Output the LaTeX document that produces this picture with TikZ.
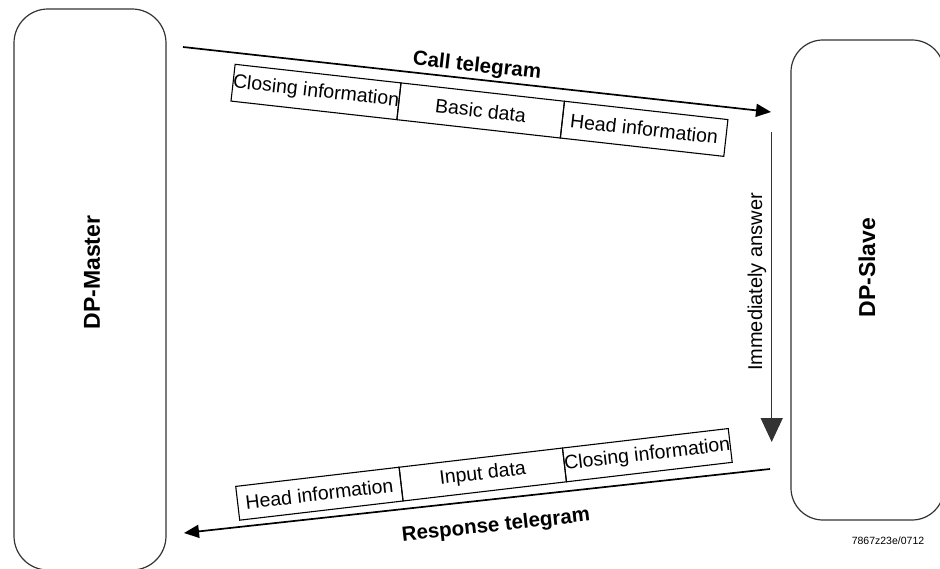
\documentclass[tikz,border=0pt]{standalone}
\usepackage{fontspec}
\setmainfont{Liberation Sans}
\usetikzlibrary{arrows.meta}

\begin{document}
\begin{tikzpicture}[x=1pt,y=-1pt,font=\fontsize{20}{23}\selectfont]
        \tikzset{station/.style={draw=black!80, line width=1.2pt, inner sep=0pt},
          cell/.style={draw, line width=1.1pt, minimum width=164.5pt, inner sep=0pt, outer sep=0pt, font=\fontsize{19.5}{21}\selectfont},
          title/.style={font=\fontsize{20.5}{24}\selectfont\bfseries},
          telegram/.style={line width=1.7pt, -{Triangle[length=15pt,width=13pt]}}}
        \clip (0,0) rectangle (940,569);
        % master and slave
        \node[station, rounded corners=34pt, minimum width=152pt, minimum height=561pt] (master) at (90,289.5) {};
        \node[station, rounded corners=32pt, minimum width=153pt, minimum height=480pt] (slave) at (867.5,280) {};
        \node[title, font=\fontsize{23}{26}\selectfont\bfseries, rotate=90] (mastername) at (92,272.5) {DP-Master};
        \node[title, font=\fontsize{23}{26}\selectfont\bfseries, rotate=90] (slavename) at (867,267.5) {DP-Slave};
        % call telegram
        \node[cell, rotate=-6.4, minimum height=37pt] (callclose) at (316,92) {Closing information};
        \node[cell, rotate=-6.4, minimum height=37pt, anchor=west] (calldata) at (callclose.east) {Basic data};
        \node[cell, rotate=-6.4, minimum height=37pt, anchor=west] (callhead) at (calldata.east) {Head information};
        \coordinate (callstart) at (183,47);
        \coordinate (callend) at (771,112);
        \draw[telegram] (callstart) -- (callend);
        \node[title, rotate=-6.3] (calllabel) at (477,66.5) {Call telegram};
        % answer
        \coordinate (answerstart) at (771.7,132);
        \coordinate (answerend) at (771.7,442);
        \draw[line width=1.5pt, draw=black!80, -{Triangle[length=24pt,width=22pt]}] (answerstart) -- (answerend);
        \node[rotate=90] (answerlabel) at (757,282) {Immediately answer};
        % response telegram
        \node[cell, rotate=6.7, minimum height=34pt] (resphead) at (319.4,493.7) {Head information};
        \node[cell, rotate=6.7, minimum height=34pt, anchor=west] (respdata) at (resphead.east) {Input data};
        \node[cell, rotate=6.7, minimum height=34pt, anchor=west] (respclose) at (respdata.east) {Closing information};
        \coordinate (respstart) at (770,469);
        \coordinate (respend) at (184,533);
        \draw[telegram] (respstart) -- (respend);
        \node[title, rotate=6.2] (resplabel) at (496,526) {Response telegram};
        \node[font=\fontsize{10.5}{12}\selectfont] (figcode) at (888,541) {7867z23e/0712};
    \end{tikzpicture}
\end{document}
